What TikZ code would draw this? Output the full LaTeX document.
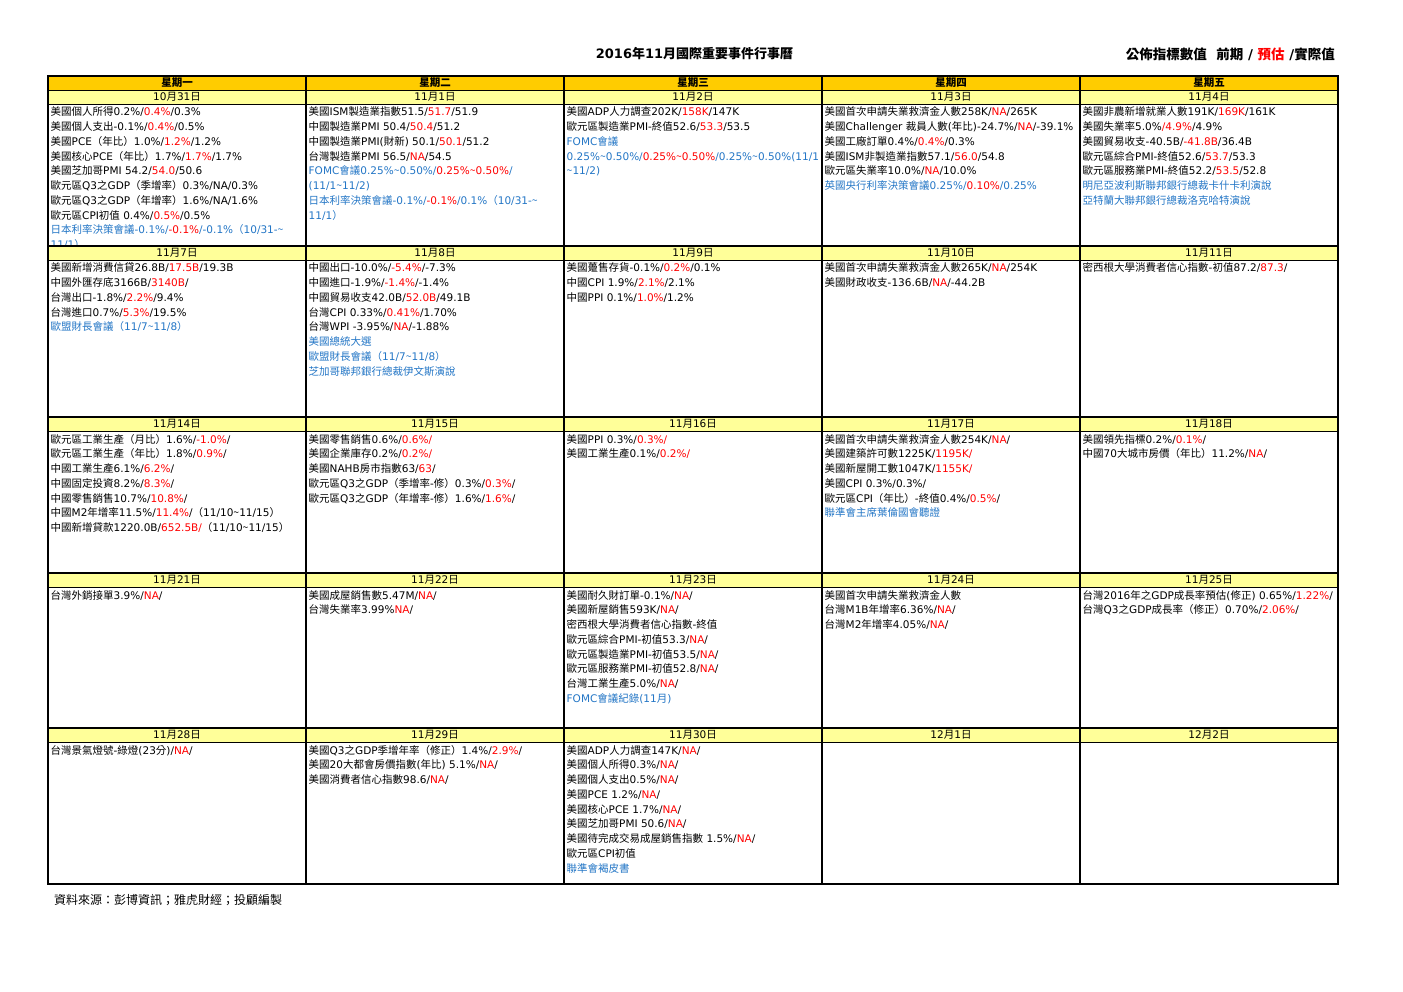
\documentclass[tikz,border=0pt]{standalone}
\usepackage{fontspec}
\setmainfont{DejaVu Sans}
\newfontfamily\cjkfont{Noto Sans CJK TC}
\XeTeXinterchartokenstate=1
\newXeTeXintercharclass\CJKcls
\newcount\cjkcnt
\cjkcnt="2E80 \loop\ifnum\cjkcnt<"A000 \XeTeXcharclass\cjkcnt=\CJKcls \advance\cjkcnt by 1 \repeat
\cjkcnt="F900 \loop\ifnum\cjkcnt<"FB00 \XeTeXcharclass\cjkcnt=\CJKcls \advance\cjkcnt by 1 \repeat
\cjkcnt="FE30 \loop\ifnum\cjkcnt<"FE50 \XeTeXcharclass\cjkcnt=\CJKcls \advance\cjkcnt by 1 \repeat
\cjkcnt="FF00 \loop\ifnum\cjkcnt<"FFF0 \XeTeXcharclass\cjkcnt=\CJKcls \advance\cjkcnt by 1 \repeat
\XeTeXinterchartoks 0 \CJKcls = {\begingroup\cjkfont}
\XeTeXinterchartoks 4095 \CJKcls = {\begingroup\cjkfont}
\XeTeXinterchartoks \CJKcls 0 = {\endgroup}
\XeTeXinterchartoks \CJKcls 4095 = {\endgroup}
\definecolor{hdrorange}{RGB}{255,204,0}
\definecolor{dateyellow}{RGB}{255,255,153}
\definecolor{evred}{RGB}{255,0,0}
\definecolor{evblue}{RGB}{35,118,198}
\newcommand\R[1]{\textcolor{evred}{#1}}
\newcommand\B[1]{\textcolor{evblue}{#1}}
\newcommand\tld{{\cjkfont\char"7E}}
\newcommand\cellbox[1]{\parbox[t]{330pt}{\raggedright #1}}
\tikzset{
  celltext/.style={anchor=base west, inner sep=0pt, font=\fontsize{10.5}{14.75}\selectfont},
  daytext/.style={inner sep=0pt, font=\fontsize{10.5}{12}\selectfont\bfseries},
  datetext/.style={inner sep=0pt, font=\fontsize{10.5}{12}\selectfont},
  thickrule/.style={line width=1.5pt, black},
  thinrule/.style={line width=0.9pt, black},
  colrule/.style={line width=1.1pt, black},
}
\begin{document}
\begin{tikzpicture}[x=1pt,y=-1pt]
\fill[white] (0,0) rectangle (1403,992);
\useasboundingbox (0,0) rectangle (1403,992);

% ---------- cell contents ----------
% row 1
\node[celltext] (c11) at (50.5,116) {\cellbox{%
美國個人所得0.2\%/\R{0.4\%}/0.3\%\\
美國個人支出-0.1\%/\R{0.4\%}/0.5\%\\
美國PCE（年比）1.0\%/\R{1.2\%}/1.2\%\\
美國核心PCE（年比）1.7\%/\R{1.7\%}/1.7\%\\
美國芝加哥PMI 54.2/\R{54.0}/50.6\\
歐元區Q3之GDP（季增率）0.3\%/NA/0.3\%\\
歐元區Q3之GDP（年增率）1.6\%/NA/1.6\%\\
歐元區CPI初值 0.4\%/\R{0.5\%}/0.5\%\\
\B{日本利率決策會議-0.1\%/}\R{-0.1\%}\B{/-0.1\%（10/31-\tld}\\
\B{11/1）}}};
\node[celltext] (c12) at (308.5,116) {\cellbox{%
美國ISM製造業指數51.5/\R{51.7}/51.9\\
中國製造業PMI 50.4/\R{50.4}/51.2\\
中國製造業PMI(財新) 50.1/\R{50.1}/51.2\\
台灣製造業PMI 56.5/\R{NA}/54.5\\
\B{FOMC會議0.25\%\tld0.50\%/}\R{0.25\%\tld0.50\%}\B{/}\\
\B{(11/1\tld11/2)}\\
\B{日本利率決策會議-0.1\%/}\R{-0.1\%}\B{/0.1\%（10/31-\tld}\\
\B{11/1）}}};
\node[celltext] (c13) at (566.5,116) {\cellbox{%
美國ADP人力調查202K/\R{158K}/147K\\
歐元區製造業PMI-終值52.6/\R{53.3}/53.5\\
\B{FOMC會議}\\
\B{0.25\%\tld0.50\%/}\R{0.25\%\tld0.50\%}\B{/0.25\%\tld0.50\%(11/1}\\
\B{\tld11/2)}}};
\node[celltext] (c14) at (824.5,116) {\cellbox{%
美國首次申請失業救濟金人數258K/\R{NA}/265K\\
美國Challenger 裁員人數(年比)-24.7\%/\R{NA}/-39.1\%\\
美國工廠訂單0.4\%/\R{0.4\%}/0.3\%\\
美國ISM非製造業指數57.1/\R{56.0}/54.8\\
歐元區失業率10.0\%/\R{NA}/10.0\%\\
\B{英國央行利率決策會議0.25\%/}\R{0.10\%}\B{/0.25\%}}};
\node[celltext] (c15) at (1082.5,116) {\cellbox{%
美國非農新增就業人數191K/\R{169K}/161K\\
美國失業率5.0\%\R{/4.9\%}/4.9\%\\
美國貿易收支-40.5B/\R{-41.8B}/36.4B\\
歐元區綜合PMI-終值52.6/\R{53.7}/53.3\\
歐元區服務業PMI-終值52.2/\R{53.5}/52.8\\
\B{明尼亞波利斯聯邦銀行總裁卡什卡利演說}\\
\B{亞特蘭大聯邦銀行總裁洛克哈特演說}}};

% row 2
\node[celltext] (c21) at (50.5,272) {\cellbox{%
美國新增消費信貸26.8B/\R{17.5B}/19.3B\\
中國外匯存底3166B/\R{3140B}/\\
台灣出口-1.8\%/\R{2.2\%}/9.4\%\\
台灣進口0.7\%/\R{5.3\%}/19.5\%\\
\B{歐盟財長會議（11/7\tld11/8）}}};
\node[celltext] (c22) at (308.5,272) {\cellbox{%
中國出口-10.0\%/\R{-5.4\%}/-7.3\%\\
中國進口-1.9\%/\R{-1.4\%}/-1.4\%\\
中國貿易收支42.0B/\R{52.0B}/49.1B\\
台灣CPI 0.33\%/\R{0.41\%}/1.70\%\\
台灣WPI -3.95\%/\R{NA}/-1.88\%\\
\B{美國總統大選}\\
\B{歐盟財長會議（11/7\tld11/8）}\\
\B{芝加哥聯邦銀行總裁伊文斯演說}}};
\node[celltext] (c23) at (566.5,272) {\cellbox{%
美國躉售存貨-0.1\%/\R{0.2\%}/0.1\%\\
中國CPI 1.9\%/\R{2.1\%}/2.1\%\\
中國PPI 0.1\%/\R{1.0\%}/1.2\%}};
\node[celltext] (c24) at (824.5,272) {\cellbox{%
美國首次申請失業救濟金人數265K/\R{NA}/254K\\
美國財政收支-136.6B/\R{NA}/-44.2B}};
\node[celltext] (c25) at (1082.5,272) {\cellbox{%
密西根大學消費者信心指數-初值87.2/\R{87.3}/}};

% row 3
\node[celltext] (c31) at (50.5,443) {\cellbox{%
歐元區工業生產（月比）1.6\%/\R{-1.0\%}/\\
歐元區工業生產（年比）1.8\%/\R{0.9\%}/\\
中國工業生產6.1\%/\R{6.2\%}/\\
中國固定投資8.2\%/\R{8.3\%}/\\
中國零售銷售10.7\%/\R{10.8\%}/\\
中國M2年增率11.5\%/\R{11.4\%}/（11/10\tld11/15）\\
中國新增貸款1220.0B/\R{652.5B/}（11/10\tld11/15）}};
\node[celltext] (c32) at (308.5,443) {\cellbox{%
美國零售銷售0.6\%/\R{0.6\%/}\\
美國企業庫存0.2\%/\R{0.2\%/}\\
美國NAHB房市指數63/\R{63}/\\
歐元區Q3之GDP（季增率-修）0.3\%/\R{0.3\%}/\\
歐元區Q3之GDP（年增率-修）1.6\%/\R{1.6\%}/}};
\node[celltext] (c33) at (566.5,443) {\cellbox{%
美國PPI 0.3\%/\R{0.3\%/}\\
美國工業生產0.1\%/\R{0.2\%/}}};
\node[celltext] (c34) at (824.5,443) {\cellbox{%
美國首次申請失業救濟金人數254K/\R{NA}/\\
美國建築許可數1225K/\R{1195K/}\\
美國新屋開工數1047K/\R{1155K/}\\
美國CPI 0.3\%/0.3\%/\\
歐元區CPI（年比）-終值0.4\%/\R{0.5\%}/\\
\B{聯準會主席葉倫國會聽證}}};
\node[celltext] (c35) at (1082.5,443) {\cellbox{%
美國領先指標0.2\%/\R{0.1\%}/\\
中國70大城市房價（年比）11.2\%/\R{NA}/}};

% row 4
\node[celltext] (c41) at (50.5,599) {\cellbox{%
台灣外銷接單3.9\%/\R{NA}/}};
\node[celltext] (c42) at (308.5,599) {\cellbox{%
美國成屋銷售數5.47M/\R{NA}/\\
台灣失業率3.99\%\R{NA}/}};
\node[celltext] (c43) at (566.5,599) {\cellbox{%
美國耐久財訂單-0.1\%/\R{NA}/\\
美國新屋銷售593K/\R{NA}/\\
密西根大學消費者信心指數-終值\\
歐元區綜合PMI-初值53.3/\R{NA}/\\
歐元區製造業PMI-初值53.5/\R{NA}/\\
歐元區服務業PMI-初值52.8/\R{NA}/\\
台灣工業生產5.0\%/\R{NA}/\\
\B{FOMC會議紀錄(11月)}}};
\node[celltext] (c44) at (824.5,599) {\cellbox{%
美國首次申請失業救濟金人數\\
台灣M1B年增率6.36\%/\R{NA}/\\
台灣M2年增率4.05\%/\R{NA}/}};
\node[celltext] (c45) at (1082.5,599) {\cellbox{%
台灣2016年之GDP成長率預估(修正) 0.65\%/\R{1.22\%}/\\
台灣Q3之GDP成長率（修正）0.70\%/\R{2.06\%}/}};

% row 5
\node[celltext] (c51) at (50.5,754) {\cellbox{%
台灣景氣燈號-綠燈(23分)/\R{NA}/}};
\node[celltext] (c52) at (308.5,754) {\cellbox{%
美國Q3之GDP季增年率（修正）1.4\%/\R{2.9\%}/\\
美國20大都會房價指數(年比) 5.1\%/\R{NA}/\\
美國消費者信心指數98.6/\R{NA}/}};
\node[celltext] (c53) at (566.5,754) {\cellbox{%
美國ADP人力調查147K/\R{NA}/\\
美國個人所得0.3\%/\R{NA}/\\
美國個人支出0.5\%/\R{NA}/\\
美國PCE 1.2\%/\R{NA}/\\
美國核心PCE 1.7\%/\R{NA}/\\
美國芝加哥PMI 50.6/\R{NA}/\\
美國待完成交易成屋銷售指數 1.5\%/\R{NA}/\\
歐元區CPI初值\\
\B{聯準會褐皮書}}};

% ---------- bars ----------
\fill[hdrorange] (48,76) rectangle (1338,90);
\foreach \t in {90,246,417,573,728}
  \fill[dateyellow] (48,\t) rectangle (1338,\t+14);

% ---------- rules ----------
\foreach \yy in {76,246,417,573,728,884}
  \draw[thickrule] (48,\yy) -- (1338,\yy);
\foreach \yy in {90,104,260,431,587,742}
  \draw[thinrule] (48,\yy) -- (1338,\yy);
\foreach \xx in {306,564,822,1080}
  \draw[colrule] (\xx,76) -- (\xx,884);
\draw[thickrule] (48,75.25) -- (48,884.75);
\draw[thickrule] (1338,75.25) -- (1338,884.75);

% ---------- weekday headers ----------
\node[daytext] (h1) at (177,83) {星期一};
\node[daytext] (h2) at (435,83) {星期二};
\node[daytext] (h3) at (693,83) {星期三};
\node[daytext] (h4) at (951,83) {星期四};
\node[daytext] (h5) at (1209,83) {星期五};

% ---------- dates ----------
\node[datetext] (d11) at (177,97) {10月31日};
\node[datetext] (d12) at (435,97) {11月1日};
\node[datetext] (d13) at (693,97) {11月2日};
\node[datetext] (d14) at (951,97) {11月3日};
\node[datetext] (d15) at (1209,97) {11月4日};
\node[datetext] (d21) at (177,253) {11月7日};
\node[datetext] (d22) at (435,253) {11月8日};
\node[datetext] (d23) at (693,253) {11月9日};
\node[datetext] (d24) at (951,253) {11月10日};
\node[datetext] (d25) at (1209,253) {11月11日};
\node[datetext] (d31) at (177,424) {11月14日};
\node[datetext] (d32) at (435,424) {11月15日};
\node[datetext] (d33) at (693,424) {11月16日};
\node[datetext] (d34) at (951,424) {11月17日};
\node[datetext] (d35) at (1209,424) {11月18日};
\node[datetext] (d41) at (177,580) {11月21日};
\node[datetext] (d42) at (435,580) {11月22日};
\node[datetext] (d43) at (693,580) {11月23日};
\node[datetext] (d44) at (951,580) {11月24日};
\node[datetext] (d45) at (1209,580) {11月25日};
\node[datetext] (d51) at (177,735) {11月28日};
\node[datetext] (d52) at (435,735) {11月29日};
\node[datetext] (d53) at (693,735) {11月30日};
\node[datetext] (d54) at (951,735) {12月1日};
\node[datetext] (d55) at (1209,735) {12月2日};

% ---------- title, legend, source ----------
\node[inner sep=0pt, font=\fontsize{13}{15}\selectfont\bfseries] (title) at (694.5,54) {2016年11月國際重要事件行事曆};
\node[inner sep=0pt, anchor=east, font=\fontsize{13.5}{15}\selectfont\bfseries] (legend) at (1335,54) {公佈指標數值\ \ 前期 / \R{預估} /實際值};
\node[inner sep=0pt, anchor=west, font=\fontsize{12}{14}\selectfont] (source) at (54,900) {資料來源：彭博資訊；雅虎財經；投顧編製};
\end{tikzpicture}
\end{document}
